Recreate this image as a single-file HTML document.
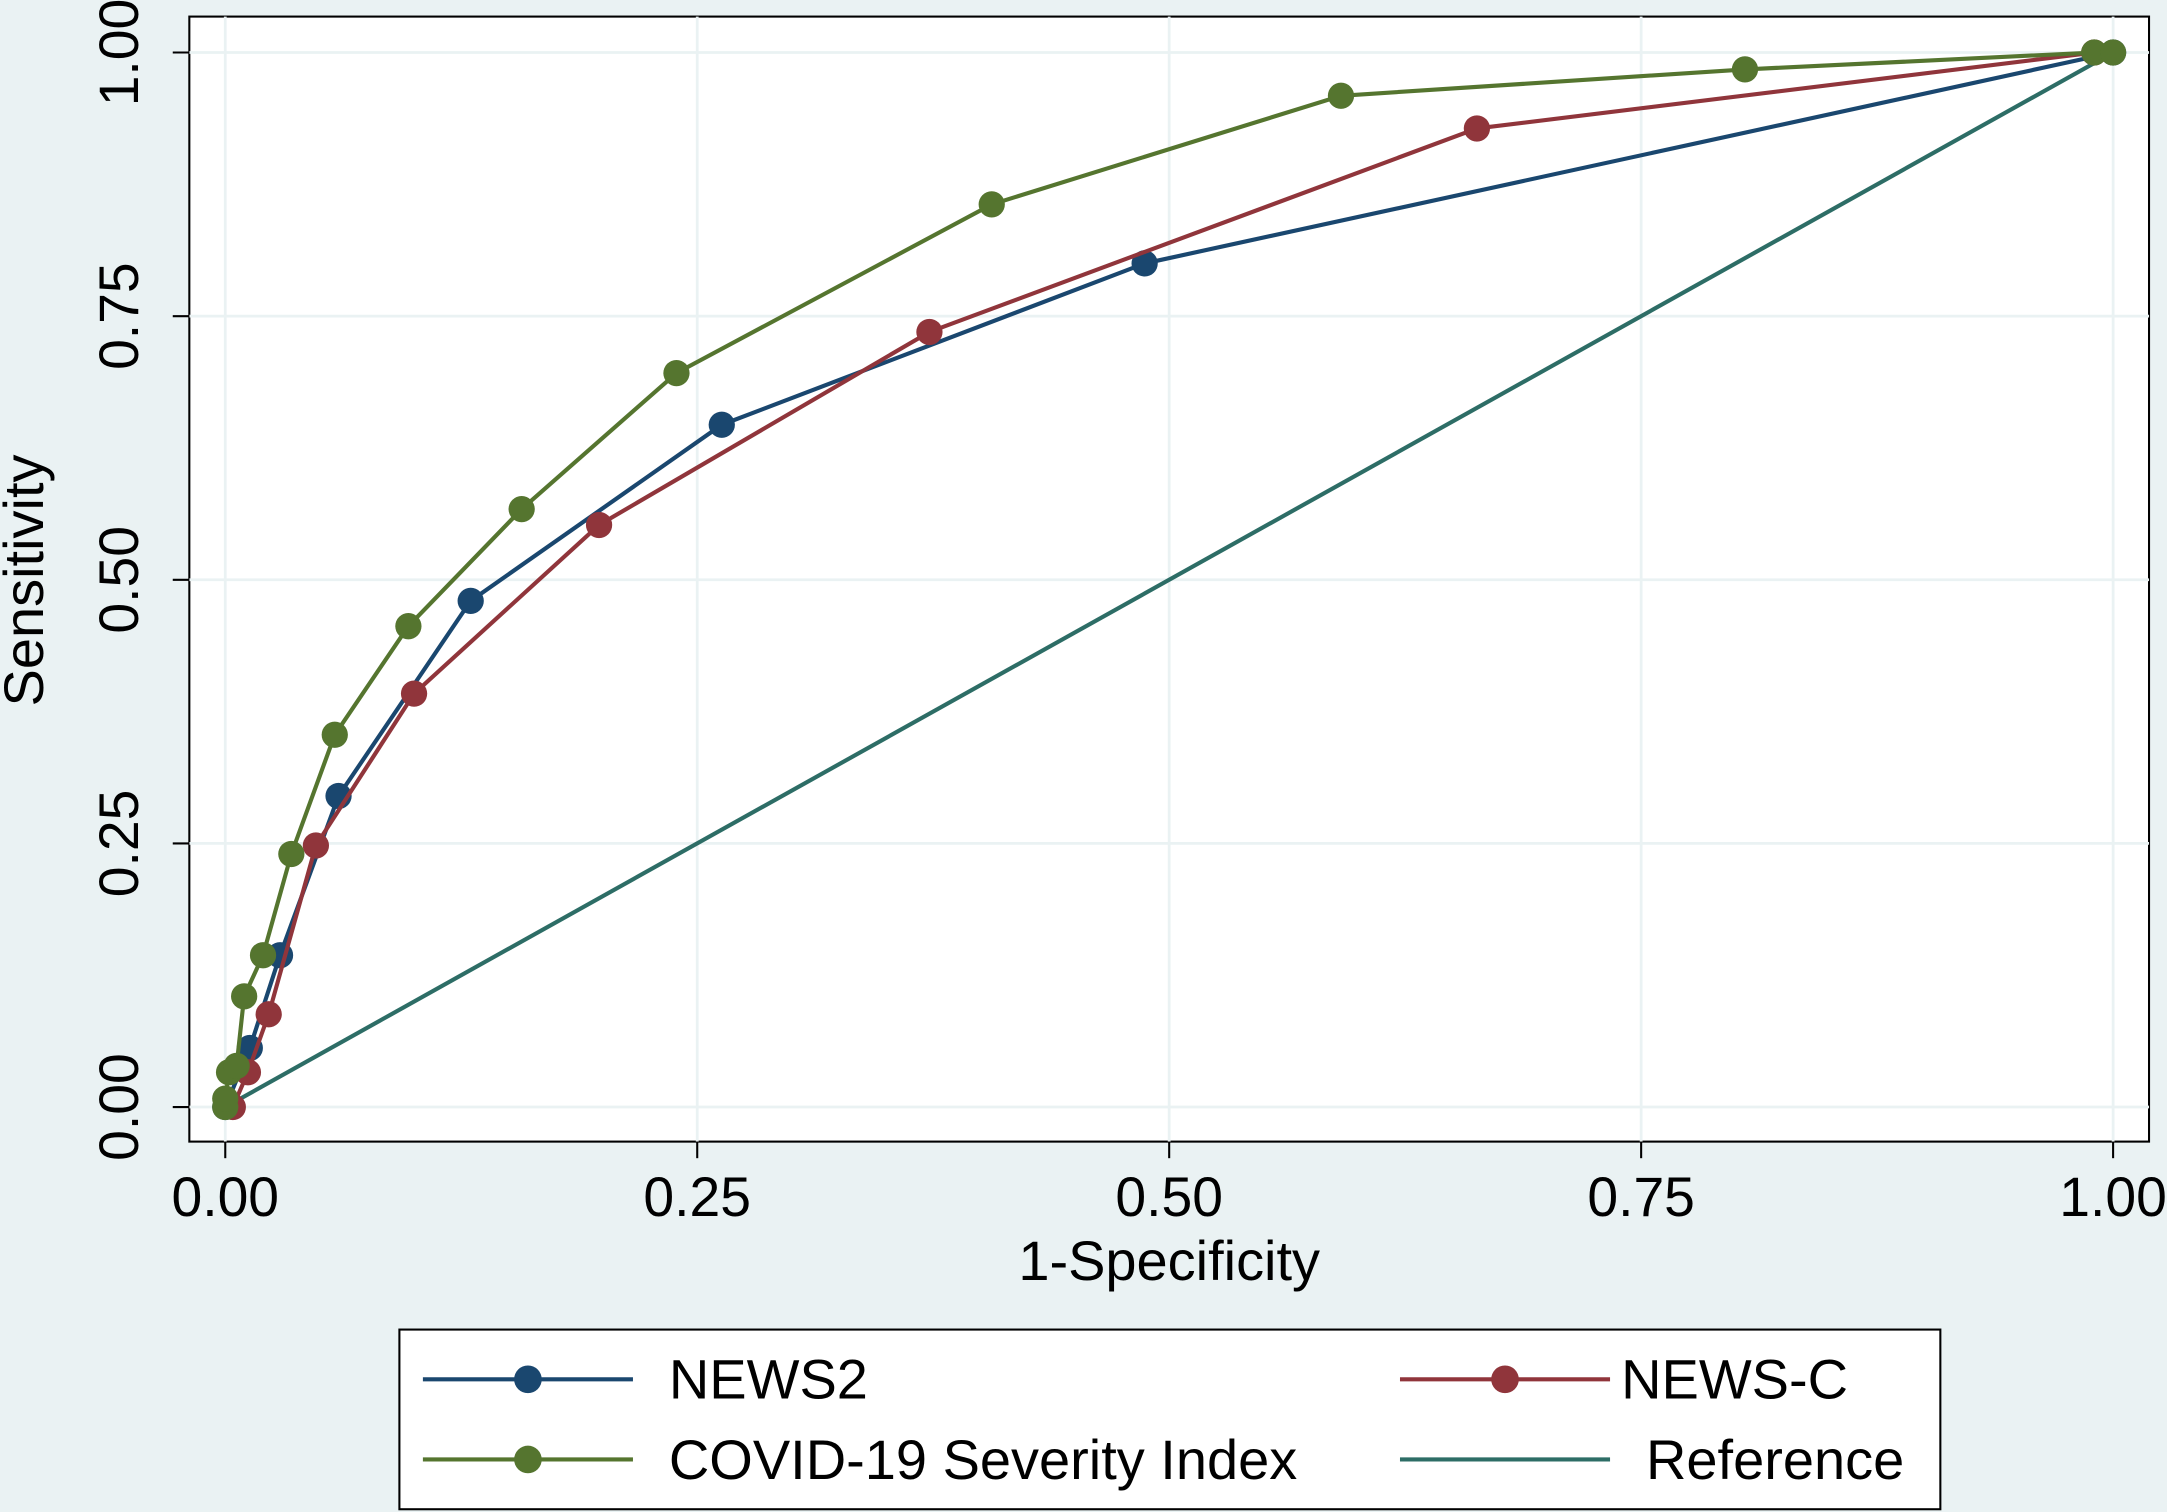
<!DOCTYPE html>
<html><head><meta charset="utf-8"><style>
html,body{margin:0;padding:0;background:#eaf2f3;}
svg{display:block;font-family:"Liberation Sans",Arial,sans-serif;}
</style></head><body>
<svg id="chart" width="2167" height="1512" viewBox="0 0 1568 1094" preserveAspectRatio="none" xmlns="http://www.w3.org/2000/svg">
<rect x="0" y="0" width="1568" height="1094" fill="#eaf2f3"/>
<rect x="137" y="12" width="1418" height="814" fill="#ffffff" stroke="#000" stroke-width="1.5"/>
<g id="grid"></g>
<g id="axes"></g>
<g id="series"></g>
<text x="846" y="926" font-size="40.5" text-anchor="middle">1-Specificity</text>
<text transform="translate(31,420) rotate(-90)" font-size="40.5" text-anchor="middle">Sensitivity</text>
<g>
<rect x="289" y="962" width="1115" height="130" fill="#fff" stroke="#000" stroke-width="1.5"/>
<g>
<line x1="306" y1="998" x2="458" y2="998" stroke="#1a476f" stroke-width="3"/><circle cx="382" cy="998" r="10" fill="#1a476f"/>
<text x="484" y="1012" font-size="40.5">NEWS2</text></g>
<g>
<line x1="1013" y1="998" x2="1165" y2="998" stroke="#90353b" stroke-width="3"/><circle cx="1089" cy="998" r="10" fill="#90353b"/>
<text x="1173" y="1012" font-size="40.5">NEWS-C</text></g>
<g>
<line x1="306" y1="1056" x2="458" y2="1056" stroke="#55752f" stroke-width="3"/><circle cx="382" cy="1056" r="10" fill="#55752f"/>
<text x="484" y="1070" font-size="40.5">COVID-19 Severity Index</text></g>
<g>
<line x1="1013" y1="1056" x2="1165" y2="1056" stroke="#2d6d66" stroke-width="3"/>
<text x="1191" y="1070" font-size="40.5">Reference</text></g>
</g>
</svg>
<script>
const ticks=[0,0.25,0.5,0.75,1];
const tickLabels=["0.00","0.25","0.50","0.75","1.00"];
const news2X=[0,0.013,0.029,0.060,0.130,0.263,0.487,1];
const news2Y=[0,0.056,0.144,0.295,0.480,0.647,0.800,1];
const newscX=[0.004,0.012,0.023,0.048,0.100,0.198,0.373,0.663,0.99];
const newscY=[0,0.033,0.088,0.248,0.392,0.552,0.735,0.928,1];
const covidX=[0,0,0.002,0.006,0.010,0.020,0.035,0.058,0.097,0.157,0.239,0.406,0.591,0.805,0.99,1];
const covidY=[0,0.008,0.033,0.039,0.105,0.144,0.240,0.353,0.456,0.567,0.696,0.856,0.959,0.984,1,1];
const refX=[0,1];
const refY=[0,1];
const NS="http://www.w3.org/2000/svg";
const sx=v=>163+v*1366, sy=v=>801-v*763;
function mk(tag,attrs,parent){const e=document.createElementNS(NS,tag);for(const k in attrs)e.setAttribute(k,attrs[k]);parent.appendChild(e);return e;}
const grid=document.getElementById('grid'),axes=document.getElementById('axes'),series=document.getElementById('series');
ticks.forEach((t,i)=>{
 let g1=mk('line',{x1:sx(t),x2:sx(t),y1:12,y2:826,stroke:'#eaf2f3','stroke-width':2},grid);
 
 
 let g2=mk('line',{x1:137,x2:1555,y1:sy(t),y2:sy(t),stroke:'#eaf2f3','stroke-width':2},grid);
 
 
 let tx=mk('line',{x1:sx(t),x2:sx(t),y1:826,y2:838,stroke:'#000','stroke-width':1.5},axes);
 
 
 let lx=mk('text',{x:sx(t),y:880,'font-size':40,'text-anchor':'middle'},axes);lx.textContent=tickLabels[i];
 
 
 let ty=mk('line',{x1:125,x2:137,y1:sy(t),y2:sy(t),stroke:'#000','stroke-width':1.5},axes);
 
 
 let ly=mk('text',{transform:`translate(100,${sy(t)}) rotate(-90)`,'font-size':40,'text-anchor':'middle'},axes);ly.textContent=tickLabels[i];
 
 
});
function draw(xs,ys,color,name,markers){
 const pl=mk('polyline',{points:xs.map((x,i)=>sx(x)+','+sy(ys[i])).join(' '),fill:'none',stroke:color,'stroke-width':3},series);
 
 
 if(markers)xs.forEach((x,i)=>{const c=mk('circle',{cx:sx(x),cy:sy(ys[i]),r:9.5,fill:color},series);
  
  });
}
draw(refX,refY,'#2d6d66','reference',false);
draw(news2X,news2Y,'#1a476f','news2',true);
draw(newscX,newscY,'#90353b','newsc',true);
draw(covidX,covidY,'#55752f','covid',true);
</script>
</body></html>
